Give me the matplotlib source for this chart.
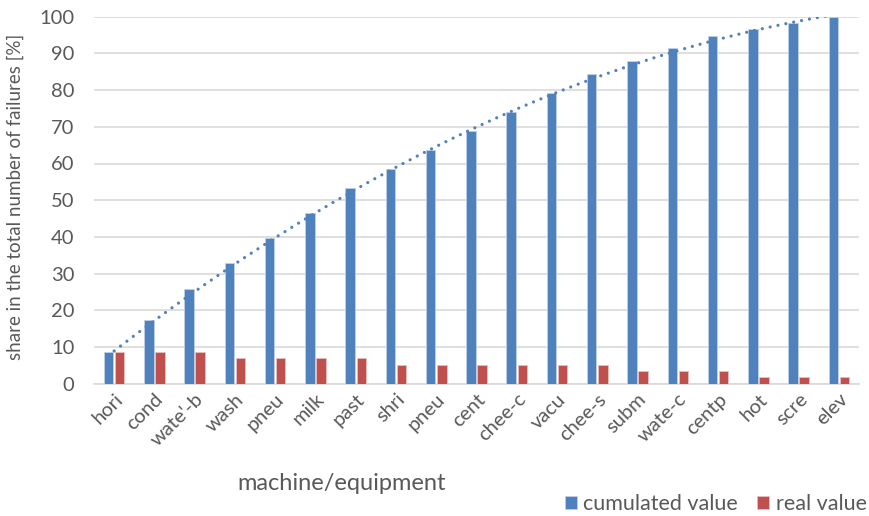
import matplotlib
matplotlib.use("Agg")
import matplotlib.pyplot as plt
import numpy as np

categories = ["hori", "cond", "wate'-b", "wash", "pneu", "milk", "past", "shri", "pneu",
              "cent", "chee-c", "vacu", "chee-s", "subm", "wate-c", "centp", "hot", "scre", "elev"]
cumulated = [8.62, 17.24, 25.86, 32.76, 39.66, 46.55, 53.45, 58.62, 63.79, 68.97,
             74.14, 79.31, 84.48, 87.93, 91.38, 94.83, 96.55, 98.28, 100.0]
real = [8.62, 8.62, 8.62, 6.90, 6.90, 6.90, 6.90, 5.17, 5.17, 5.17,
        5.17, 5.17, 5.17, 3.45, 3.45, 3.45, 1.72, 1.72, 1.72]

plt.rcParams['font.family'] = ['Lato', 'DejaVu Sans']
gray = '#595959'
blue = '#4F81BD'
red = '#C0504D'

fig = plt.figure(figsize=(8.7, 5.16), dpi=100)
ax = fig.add_axes([94/870, 1-383.7/516, (859-94)/870, (383.7-16.7)/516])

x = np.arange(len(categories))
w = 0.235
ax.bar(x - w/2 - 0.02, cumulated, w, color=blue, edgecolor='#BFD0E6', linewidth=0.6,
       label='cumulated value', zorder=3)
ax.bar(x + w/2 + 0.02, real, w, color=red, edgecolor='#E6BFBE', linewidth=0.6,
       label='real value', zorder=3)

# polynomial trendline (order 2) of cumulated values
coef = np.polyfit(x, cumulated, 2)
xs = np.linspace(0, len(categories) - 1, 400)
ax.plot(xs, np.polyval(coef, xs), linestyle=(0, (0.01, 2.5)), color=blue, linewidth=2.3,
        dash_capstyle='round', solid_capstyle='round', zorder=4)

ax.set_xlim(-0.5, len(categories) - 0.5)
ax.set_ylim(0, 100)
ax.set_yticks(np.arange(0, 101, 10))
ax.yaxis.grid(True, color='#D9D9D9', linewidth=1.2, zorder=0)
ax.set_axisbelow(True)
for s in ['top', 'right', 'left']:
    ax.spines[s].set_visible(False)
ax.spines['bottom'].set_color('#D9D9D9')
ax.spines['bottom'].set_linewidth(1.2)
ax.tick_params(axis='y', length=0, pad=14, labelsize=14.5, labelcolor=gray)
ax.tick_params(axis='x', length=0, pad=5, labelsize=14.5, labelcolor=gray)
ax.set_xticks(x)
ax.set_xticklabels(categories, rotation=45, ha='right', rotation_mode='anchor')

fig.text(15/870, 1-197/516, 'share in the total number of failures [%]', rotation=90,
         ha='center', va='center', fontsize=13.5, color=gray)
fig.text(342/870, 1-483/516, 'machine/equipment', ha='center', va='center',
         fontsize=17, color=gray)

leg = ax.legend(loc='lower right', bbox_to_anchor=(886/870, -0.034), bbox_transform=fig.transFigure,
                ncol=2, frameon=False, fontsize=15.5, handlelength=0.55, handleheight=0.55,
                handletextpad=0.3, columnspacing=0.9, labelcolor=gray)

fig.savefig('out.png', dpi=100)
